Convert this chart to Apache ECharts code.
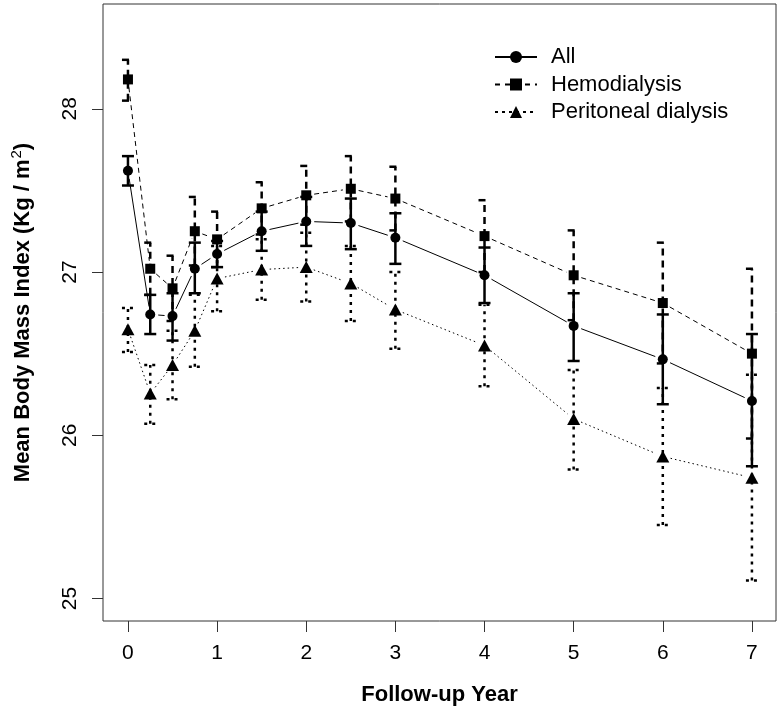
<!DOCTYPE html>
<html><head><meta charset="utf-8">
<script src="https://cdn.jsdelivr.net/npm/echarts@6/dist/echarts.min.js"></script>
<style>html,body{margin:0;padding:0;background:#fff}#c{width:781px;height:711px}</style>
</head><body><div id="c"></div>
<script>
const years = [0, 0.25, 0.5, 0.75, 1, 1.5, 2, 2.5, 3, 4, 5, 6, 7];
const allMean = [27.62, 26.74, 26.73, 27.02, 27.11, 27.25, 27.31, 27.30, 27.21, 26.98, 26.67, 26.465, 26.21];
const allLow  = [27.53, 26.62, 26.58, 26.87, 27.03, 27.13, 27.16, 27.14, 27.05, 26.81, 26.455, 26.19, 25.81];
const allHigh = [27.71, 26.86, 26.87, 27.18, 27.19, 27.37, 27.46, 27.45, 27.36, 27.15, 26.87, 26.74, 26.62];
const hdMean  = [28.18, 27.02, 26.90, 27.25, 27.20, 27.39, 27.47, 27.51, 27.45, 27.22, 26.98, 26.81, 26.50];
const hdLow   = [28.05, 26.86, 26.70, 27.04, 27.03, 27.23, 27.29, 27.31, 27.255, 27.00, 26.705, 26.44, 25.98];
const hdHigh  = [28.30, 27.18, 27.10, 27.46, 27.37, 27.55, 27.65, 27.71, 27.645, 27.44, 27.255, 27.18, 27.02];
const pdMean  = [26.65, 26.255, 26.43, 26.64, 26.96, 27.015, 27.03, 26.93, 26.77, 26.55, 26.10, 25.87, 25.74];
const pdLow   = [26.51, 26.07, 26.22, 26.42, 26.76, 26.83, 26.82, 26.70, 26.53, 26.30, 25.79, 25.45, 25.11];
const pdHigh  = [26.78, 26.43, 26.64, 26.86, 27.16, 27.20, 27.24, 27.16, 27.00, 26.80, 26.40, 26.29, 26.37];
const xTicks = [0, 1, 2, 3, 4, 5, 6, 7];
const yTicks = [25, 26, 27, 28];
const seriesNames = ['All', 'Hemodialysis', 'Peritoneal dialysis'];

const FONT = '"Liberation Sans", Arial, Helvetica, sans-serif';
const groups = [
  {name: seriesNames[0], mean: allMean, low: allLow, high: allHigh, symbol: 'circle', size: 10, dash: null, barDash: null, legendType: 'solid'},
  {name: seriesNames[1], mean: hdMean, low: hdLow, high: hdHigh, symbol: 'rect', size: 10, dash: [5, 4], barDash: [7, 5], legendType: [5, 5]},
  {name: seriesNames[2], mean: pdMean, low: pdLow, high: pdHigh, symbol: 'triangle', size: [13, 12], dash: [1.5, 3], barDash: [3, 5], legendType: [3, 4]}
];

const series = [];
groups.forEach(g => {
  series.push({
    type: 'custom', name: g.name + ' CI', silent: true, z: 2,
    data: years.map((x, i) => [x, g.low[i], g.high[i]]),
    encode: {x: 0, y: [1, 2]},
    renderItem: function (params, api) {
      const x = api.value(0);
      const lo = api.coord([x, api.value(1)]);
      const hi = api.coord([x, api.value(2)]);
      const cw = 6;
      const st = {stroke: '#000', lineWidth: 2.5, lineDash: g.barDash, fill: null};
      return {type: 'group', children: [
        {type: 'line', shape: {x1: lo[0], y1: lo[1], x2: hi[0], y2: hi[1]}, style: st},
        {type: 'line', shape: {x1: lo[0] - cw, y1: lo[1], x2: lo[0] + cw, y2: lo[1]}, style: st},
        {type: 'line', shape: {x1: hi[0] - cw, y1: hi[1], x2: hi[0] + cw, y2: hi[1]}, style: st}
      ]};
    }
  });
  series.push({
    type: 'custom', name: g.name + ' seg', silent: true, z: 3,
    data: years.slice(0, -1).map((x, i) => [x, g.mean[i], years[i + 1], g.mean[i + 1]]),
    encode: {x: [0, 2], y: [1, 3]},
    renderItem: function (params, api) {
      const p1 = api.coord([api.value(0), api.value(1)]);
      const p2 = api.coord([api.value(2), api.value(3)]);
      const dx = p2[0] - p1[0], dy = p2[1] - p1[1];
      const L = Math.sqrt(dx * dx + dy * dy);
      const gap = 8;
      if (L <= 2 * gap) return null;
      const ux = dx / L, uy = dy / L;
      return {type: 'line', shape: {x1: p1[0] + ux * gap, y1: p1[1] + uy * gap, x2: p2[0] - ux * gap, y2: p2[1] - uy * gap},
        style: {stroke: '#000', lineWidth: 1, lineDash: g.dash, fill: null}};
    }
  });
  series.push({
    type: 'line', name: g.name, z: 4,
    data: years.map((x, i) => [x, g.mean[i]]),
    symbol: g.symbol, symbolSize: g.size, showAllSymbol: true,
    itemStyle: {color: '#000', borderWidth: 0},
    lineStyle: {color: '#000', width: 1, opacity: 0},
    animation: false, silent: true
  });
});

const chart = echarts.init(document.getElementById('c'), null, {renderer: 'canvas'});
chart.setOption({
  animation: false,
  backgroundColor: '#fff',
  grid: {left: 103, top: 4, width: 673, height: 618, show: true, borderColor: '#333', borderWidth: 1, backgroundColor: 'transparent'},
  xAxis: {
    type: 'value', min: -0.28, max: 7.27,
    axisLine: {show: false, onZero: false},
    splitLine: {show: false},
    axisTick: {show: true, customValues: xTicks, length: 11, lineStyle: {color: '#333', width: 1}},
    axisLabel: {customValues: xTicks, fontSize: 21, color: '#000', fontFamily: FONT, margin: 22},
    name: 'Follow-up Year', nameLocation: 'middle', nameGap: 63,
    nameTextStyle: {fontSize: 22, fontWeight: 'bold', color: '#000', fontFamily: FONT}
  },
  yAxis: {
    type: 'value', min: 24.862, max: 28.642,
    axisLine: {show: false, onZero: false},
    splitLine: {show: false},
    axisTick: {show: true, customValues: yTicks, length: 11, lineStyle: {color: '#333', width: 1}},
    axisLabel: {customValues: yTicks, rotate: 90, fontSize: 21, color: '#000', fontFamily: FONT, margin: 22},
    name: '{t|Mean Body Mass Index (Kg / m}{s|2}{t|)}', nameLocation: 'middle', nameGap: 67, nameRotate: 90,
    nameTextStyle: {
      fontSize: 22, fontWeight: 'bold', color: '#000', fontFamily: FONT,
      rich: {
        t: {fontSize: 22, fontWeight: 'bold', color: '#000', fontFamily: FONT},
        s: {fontSize: 15, fontWeight: 'normal', color: '#000', fontFamily: FONT, padding: [0, 0, 12, 1]}
      }
    }
  },
  legend: {
    orient: 'vertical', left: 489, top: 41, itemWidth: 42, itemHeight: 15, itemGap: 5.5,
    selectedMode: false,
    textStyle: {fontSize: 22, color: '#000', fontFamily: FONT, padding: [0, 0, 0, 9]},
    data: groups.map(g => ({name: g.name, lineStyle: {color: '#000', width: 2, type: g.legendType, opacity: 1}, itemStyle: {color: '#000'}}))
  },
  series: series
});
</script></body></html>
